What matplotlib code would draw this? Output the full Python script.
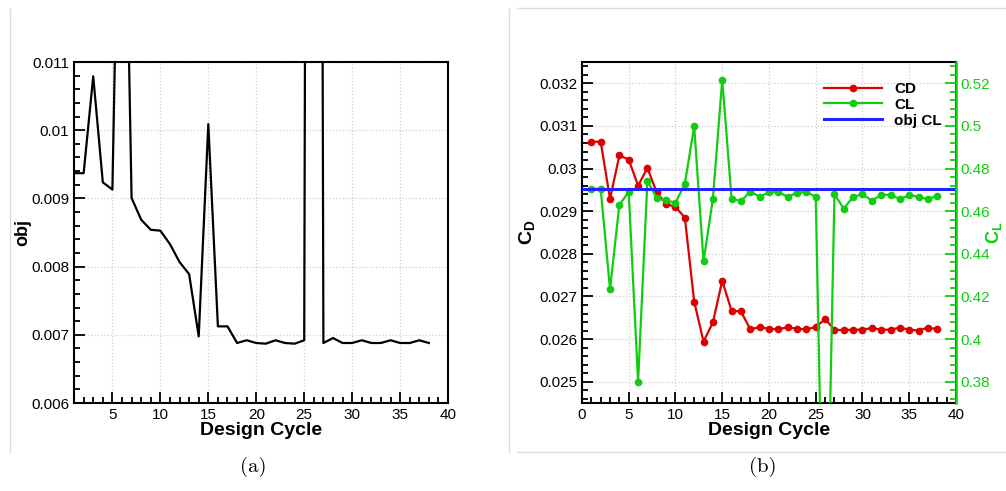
import matplotlib
matplotlib.use('Agg')
import matplotlib.pyplot as plt
from matplotlib.ticker import MultipleLocator, FuncFormatter
from matplotlib.lines import Line2D

plt.rcParams['font.family'] = ['Liberation Sans', 'DejaVu Sans']
plt.rcParams['mathtext.fontset'] = 'custom'
plt.rcParams['mathtext.bf'] = 'Liberation Sans:bold'
plt.rcParams['mathtext.rm'] = 'Liberation Sans'

# design cycles
cycles = list(range(1, 39))

# objective per cycle (panel a)
obj = [0.00937, 0.00937, 0.01079, 0.009236, 0.00913, 0.0166, 0.009006, 0.008688,
       0.00854, 0.008527, 0.00833, 0.008067, 0.00789, 0.006977, 0.01009, 0.007124,
       0.007124, 0.00688, 0.00692, 0.00688, 0.00687, 0.00692, 0.00688, 0.00687,
       0.00692, 0.06, 0.00688, 0.006953, 0.00688, 0.00688, 0.00692, 0.00688,
       0.00688, 0.00692, 0.00688, 0.00688, 0.00692, 0.00688]

# drag coefficient (panel b)
cd = [0.03063, 0.03063, 0.02929, 0.03031, 0.03021, 0.02960, 0.03001, 0.02944,
      0.02917, 0.02910, 0.02885, 0.02688, 0.02594, 0.02639, 0.02737, 0.02666,
      0.02665, 0.02623, 0.02628, 0.02624, 0.02623, 0.02628, 0.02624, 0.02623,
      0.02628, 0.02647, 0.02622, 0.02621, 0.02622, 0.02622, 0.02626, 0.02622,
      0.02622, 0.02627, 0.02622, 0.02620, 0.02627, 0.02623]

# lift coefficient (panel b)
cl = [0.4705, 0.4705, 0.4234, 0.4631, 0.4690, 0.3800, 0.4743, 0.4661,
      0.4651, 0.4639, 0.4728, 0.4999, 0.4364, 0.4658, 0.5217, 0.4659,
      0.4647, 0.4692, 0.4668, 0.4689, 0.4690, 0.4667, 0.4687, 0.4690,
      0.4668, 0.25, 0.4679, 0.4612, 0.4668, 0.4679, 0.4650, 0.4676,
      0.4678, 0.4656, 0.4676, 0.4668, 0.4656, 0.4673]

obj_cl = 0.4705

RED = '#dd0000'
GREEN = '#11cc11'
BLUE = '#2222ff'
GRID = '#d0d0d0'

fmt = FuncFormatter(lambda v, p: '%g' % round(v, 6))


def style_axis(ax):
    ax.tick_params(which='both', direction='in', labelsize=11, width=1.3)
    ax.tick_params(which='major', length=8)
    ax.tick_params(which='minor', length=4)
    for s in ax.spines.values():
        s.set_linewidth(1.5)
    ax.grid(True, which='major', color=GRID, linestyle=':', linewidth=0.9)
    ax.xaxis.set_major_locator(MultipleLocator(5))
    ax.xaxis.set_minor_locator(MultipleLocator(1))
    ax.yaxis.set_major_formatter(fmt)


fig = plt.figure(figsize=(10.06, 4.91), dpi=100)

# panel (a)
ax1 = fig.add_axes([0.0736, 0.1792, 0.3718, 0.6945])
ax1.plot(cycles, obj, color='black', linewidth=1.6)
ax1.set_xlim(1, 40)
ax1.set_ylim(0.006, 0.011)
style_axis(ax1)
ax1.yaxis.set_major_locator(MultipleLocator(0.001))
ax1.yaxis.set_minor_locator(MultipleLocator(0.0002))
ax1.set_xticks([5, 10, 15, 20, 25, 30, 35, 40])
ax1.set_xlabel('Design Cycle', fontsize=14, fontweight='bold', labelpad=0)
ax1.set_ylabel('obj', fontsize=13, fontweight='bold')
ax1.yaxis.set_label_coords(-0.115, 0.5)

# panel (b)
ax2 = fig.add_axes([0.5785, 0.1792, 0.3718, 0.6945])
l_cd, = ax2.plot(cycles, cd, color=RED, linewidth=1.6, marker='o', markersize=4.5,
                 label='CD')
ax2.set_xlim(0, 40)
ax2.set_ylim(0.0245, 0.0325)
style_axis(ax2)
ax2.yaxis.set_major_locator(MultipleLocator(0.001))
ax2.yaxis.set_minor_locator(MultipleLocator(0.0002))
ax2.set_xlabel('Design Cycle', fontsize=14, fontweight='bold', labelpad=0)
ax2.set_ylabel(r'$\mathbf{C_D}$', fontsize=14)
ax2.yaxis.set_label_coords(-0.12, 0.5)

ax3 = ax2.twinx()
l_cl, = ax3.plot(cycles, cl, color=GREEN, linewidth=1.6, marker='o', markersize=4.5,
                 label='CL')
l_obj = ax3.axhline(obj_cl, color=BLUE, linewidth=2.2, label='obj CL')
ax3.set_ylim(0.37, 0.53)
ax3.yaxis.set_major_locator(MultipleLocator(0.02))
ax3.yaxis.set_minor_locator(MultipleLocator(0.004))
ax3.yaxis.set_major_formatter(fmt)
ax3.tick_params(which='both', direction='in', labelsize=11, width=1.3,
                colors=GREEN, labelcolor=GREEN)
ax3.tick_params(which='major', length=8)
ax3.tick_params(which='minor', length=4)
ax3.spines['right'].set_color(GREEN)
ax3.spines['right'].set_linewidth(1.8)
for s in ('left', 'top', 'bottom'):
    ax3.spines[s].set_visible(False)
ax3.set_ylabel(r'$\mathbf{C_L}$', fontsize=13, color=GREEN)
ax3.yaxis.set_label_coords(1.075, 0.5)

ax3.legend(handles=[l_cd, l_cl, l_obj], loc='upper right',
           bbox_to_anchor=(0.998, 0.982), frameon=False, handlelength=3.8,
           handletextpad=0.75, labelspacing=0.12,
           prop={'weight': 'bold', 'size': 11})

# captions
fig.text(0.2515, 0.049, '(a)', ha='center', va='center', fontsize=15,
         family='cmr10')
fig.text(0.758, 0.049, '(b)', ha='center', va='center', fontsize=15,
         family='cmr10')

# subfigure frames
edge = '#dddddd'
fig.add_artist(Line2D([10 / 1006, 10 / 1006], [1 - 9 / 491, 1 - 452 / 491],
                      transform=fig.transFigure, color=edge, linewidth=1))
fig.add_artist(Line2D([509 / 1006, 509 / 1006], [1 - 9 / 491, 1 - 452 / 491],
                      transform=fig.transFigure, color=edge, linewidth=1))
fig.add_artist(Line2D([517 / 1006, 1.0], [1 - 8 / 491, 1 - 8 / 491],
                      transform=fig.transFigure, color=edge, linewidth=1))
fig.add_artist(Line2D([517 / 1006, 1.0], [1 - 452 / 491, 1 - 452 / 491],
                      transform=fig.transFigure, color=edge, linewidth=1))

fig.savefig('out.png', dpi=100)
